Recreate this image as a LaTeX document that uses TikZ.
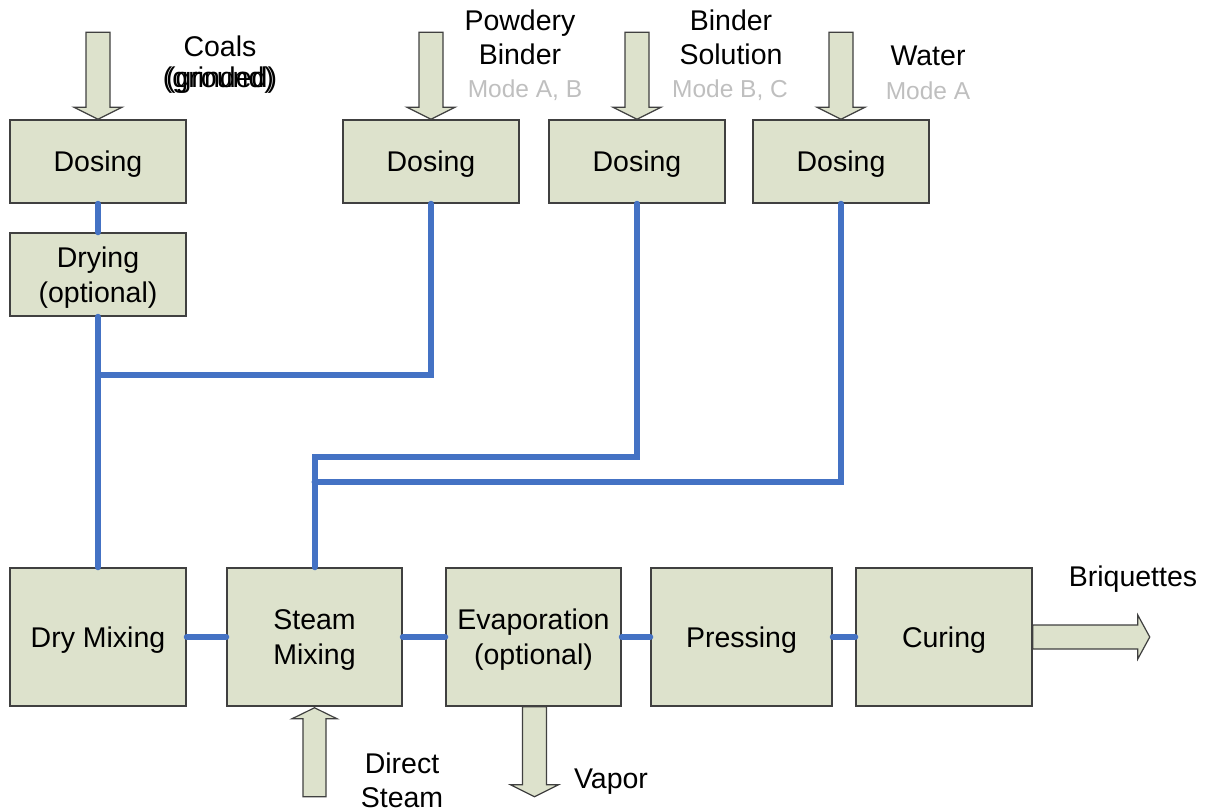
\documentclass[tikz,border=0pt]{standalone}
\usepackage{fontspec}
\setmainfont{Liberation Sans}
\definecolor{boxfill}{RGB}{221,226,204}
\definecolor{boxline}{RGB}{64,64,64}
\definecolor{flowblue}{RGB}{68,114,196}
\definecolor{modegray}{RGB}{191,191,191}
\tikzset{
  box/.style={draw=boxline, fill=boxfill, line width=1.5pt, align=center, inner sep=0pt,
    font=\fontsize{28.5}{35}\selectfont,
    execute at begin node={\rule{0pt}{27pt}},
    execute at end node={\rule[-7pt]{0pt}{0pt}}},
  smallbox/.style={box, minimum width=176pt, minimum height=83pt},
  bigbox/.style={box, minimum height=138pt},
  boxtext/.style={align=center, inner sep=0pt, font=\fontsize{28.5}{35}\selectfont},
  flow/.style={draw=flowblue, line width=6pt, line cap=round},
  blk/.style={draw=boxline, fill=boxfill, line width=1.2pt, line join=miter},
  lbl/.style={align=center, inner sep=0pt, font=\fontsize{28.5}{34}\selectfont},
  mode/.style={inner sep=0pt, text=modegray, font=\fontsize{24.5}{30}\selectfont}
}
\begin{document}
\begin{tikzpicture}[x=1pt,y=-1pt]
\useasboundingbox (0,0) rectangle (1209,808);
% boxes
\node[smallbox] (dos1) at (98,161.5) {Dosing};
\node[smallbox] (dry) at (98,274.5) {};
\node[boxtext] (dryt) at ([yshift=-3pt]dry.center) {Drying\\(optional)};
\node[smallbox] (dos2) at (431,161.5) {Dosing};
\node[smallbox] (dos3) at (637,161.5) {Dosing};
\node[smallbox] (dos4) at (841,161.5) {Dosing};
\node[bigbox, minimum width=176pt] (drymix) at (98,637) {Dry Mixing};
\node[bigbox, minimum width=175pt] (steammix) at (314.5,637) {};
\node[boxtext] (steammixt) at ([yshift=-3pt]steammix.center) {Steam\\Mixing};
\node[bigbox, minimum width=175pt] (evap) at (533.5,637) {};
\node[boxtext] (evapt) at ([yshift=-3pt]evap.center) {Evaporation\\(optional)};
\node[bigbox, minimum width=181pt] (press) at (741.5,637) {Pressing};
\node[bigbox, minimum width=176pt] (cure) at (944,637) {Curing};
% junctions
\coordinate (j1) at (98,375);
\coordinate (j2) at (314.5,457);
\coordinate (j3) at (314.5,482);
% flow lines
\draw[flow] (dos1.south) -- (dry.north);
\draw[flow] (dry.south) -- (drymix.north);
\draw[flow] (dos2.south) |- (j1);
\draw[flow] (steammix.north) -- (j2) -| (dos3.south);
\draw[flow] (j3) -| (dos4.south);
\draw[flow] (drymix.east) -- (steammix.west);
\draw[flow] (steammix.east) -- (evap.west);
\draw[flow] (evap.east) -- (press.west);
\draw[flow] (press.east) -- (cure.west);
% block arrows down into dosing boxes
\foreach \n in {dos1,dos2,dos3,dos4}{
  \draw[blk, shift={(\n.north)}] (-12,-87) -- (12,-87) -- (12,-12) -- (24,-12) -- (0,0) -- (-24,-12) -- (-12,-12) -- cycle;
}
% direct steam (up)
\draw[blk, shift={(steammix.south)}] (-11.5,90) -- (11.5,90) -- (11.5,12) -- (22.5,12) -- (0,1) -- (-22.5,12) -- (-11.5,12) -- cycle;
% vapor (down)
\draw[blk, shift={(evap.south)}] (-11,0) -- (13,0) -- (13,78) -- (25,78) -- (1,90) -- (-23,78) -- (-11,78) -- cycle;
% briquettes (right)
\draw[blk, shift={(cure.east)}] (0,-12) -- (105,-12) -- (105,-22) -- (117,0) -- (105,22) -- (105,12) -- (0,12) -- cycle;
% labels
\node[lbl] (coals) at (220,46) {Coals};
\node[lbl] (grind) at (220,80) {\makebox[0pt]{(ground)}\makebox[0pt]{(grinded)}};
\node[lbl] (pb) at (520,37.5) {Powdery\\Binder};
\node[mode] (ma) at (525,90) {Mode A, B};
\node[lbl] (bs) at (731,37.5) {Binder\\Solution};
\node[mode] (mb) at (730,90) {Mode B, C};
\node[lbl] (wat) at (928,56) {Water};
\node[mode] (mc) at (928,90.5) {Mode A};
\node[lbl] (briq) at (1133,579) {Briquettes};
\node[lbl] (dst) at (402,780) {Direct\\Steam};
\node[lbl] (vap) at (611,782) {Vapor};
\end{tikzpicture}
\end{document}
